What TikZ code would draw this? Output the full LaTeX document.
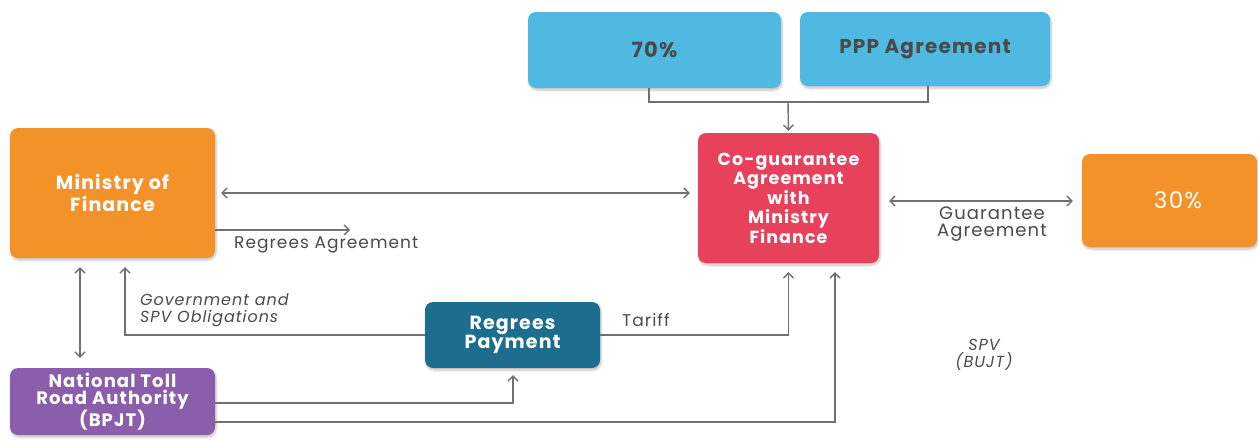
\documentclass[tikz,border=0pt]{standalone}
\usepackage{fontspec}
\setmainfont{Poppins}
\newfontfamily\spfont[LetterSpace=6]{Poppins}
\usetikzlibrary{arrows.meta,shadows.blur}
\definecolor{orng}{HTML}{F4922A}
\definecolor{purp}{HTML}{8A5EAB}
\definecolor{lblue}{HTML}{4FB9E1}
\definecolor{redc}{HTML}{E8415B}
\definecolor{teal}{HTML}{1D6D8E}
\definecolor{linec}{HTML}{707070}
\definecolor{txtc}{HTML}{4A4A4A}
\tikzset{
  box/.style={rectangle, rounded corners=8pt, align=center, text=white, font=\spfont\fontsize{18}{18.5}\selectfont\bfseries, blur shadow={shadow xshift=1pt, shadow yshift=-2pt, shadow blur steps=6, shadow opacity=25}},
  conn/.style={draw=linec, line width=1.4pt, arrows={-Straight Barb[length=5pt,width=10pt]}},
  bconn/.style={draw=linec, line width=1.4pt, arrows={Straight Barb[length=5pt,width=10pt]-Straight Barb[length=5pt,width=10pt]}},
  plain/.style={draw=linec, line width=1.4pt},
  lbl/.style={text=txtc, font=\spfont\fontsize{17}{17}\selectfont, align=center, inner sep=0pt},
  ilbl/.style={text=txtc, font=\spfont\fontsize{16}{17}\selectfont\itshape, align=left, inner sep=0pt},
}
\begin{document}
\begin{tikzpicture}[x=1pt,y=-1pt]
\useasboundingbox (0,0) rectangle (1258,439);
\node[box, fill=orng, minimum width=205pt, minimum height=130pt, font=\spfont\fontsize{19}{19}\selectfont\bfseries] (mof) at (112.5,193) {Ministry of\\Finance};
\node[box, fill=purp, minimum width=205pt, minimum height=67pt, font=\spfont\fontsize{18}{17}\selectfont\bfseries] (ntra) at (112.5,401.5) {National Toll\\Road Authority\\(BPJT)};
\node[box, fill=lblue, minimum width=253pt, minimum height=76pt, text=txtc, font=\spfont\fontsize{21}{21}\selectfont\bfseries] (p70) at (654.5,50) {70\%};
\node[box, fill=lblue, minimum width=250pt, minimum height=74pt, text=txtc, font=\spfont\fontsize{20}{20}\selectfont\bfseries] (ppp) at (925,49) {PPP Agreement};
\node[box, fill=redc, minimum width=181pt, minimum height=130pt, font=\spfont\fontsize{17.5}{19.5}\selectfont\bfseries] (cog) at (788.5,198) {Co-guarantee\\Agreement\\with\\Ministry\\Finance};
\node[box, fill=teal, minimum width=175pt, minimum height=66pt, font=\spfont\fontsize{19}{18}\selectfont\bfseries] (rp) at (512.5,335) {Regrees\\Payment};
\node[box, fill=orng, minimum width=175pt, minimum height=93pt, font=\spfont\fontsize{23}{23}\selectfont] (p30) at (1169.5,200.5) {\hspace*{17pt}30\%};

\coordinate (j) at (788,102);
\draw[plain] (p70.south -| 649,0) |- (j);
\draw[plain] (ppp.south -| 928,0) |- (j);
\draw[conn, shorten >=2pt] (j) -- (cog.north);

\draw[bconn, shorten <=6pt, shorten >=8pt] (mof.east |- 0,193) -- (cog.west |- 0,193);
\coordinate (ra) at (350,230);
\draw[conn] (mof.east |- ra) -- (ra);
\node[lbl, anchor=west] (ral) at (234,245) {Regrees Agreement};

\draw[bconn, shorten <=9pt, shorten >=10pt] (mof.south -| 80,0) -- (ntra.north -| 80,0);

\draw[conn, shorten >=9pt] (rp.west) -| (mof.south -| 125,0);
\node[ilbl, anchor=west] (gov) at (140,310) {Government and\\SPV Obligations};

\draw[conn, shorten >=9pt] (rp.east) -| (cog.south);
\node[lbl, anchor=west] (tar) at (622,320) {Tariff};

\draw[conn, shorten >=7pt] (ntra.east |- 0,403) -| (rp.south -| 513,0);
\draw[conn, shorten >=9pt] (ntra.east |- 0,422) -| (cog.south -| 835,0);

\draw[bconn, shorten <=10pt, shorten >=9pt] (cog.east |- 0,201) -- (p30.west |- 0,201);
\node[lbl, font=\spfont\fontsize{18}{17}\selectfont] (gal) at (992,224) {Guarantee\\Agreement};
\node[ilbl, align=center] (spv) at (984,355) {SPV\\(BUJT)};
\end{tikzpicture}
\end{document}
